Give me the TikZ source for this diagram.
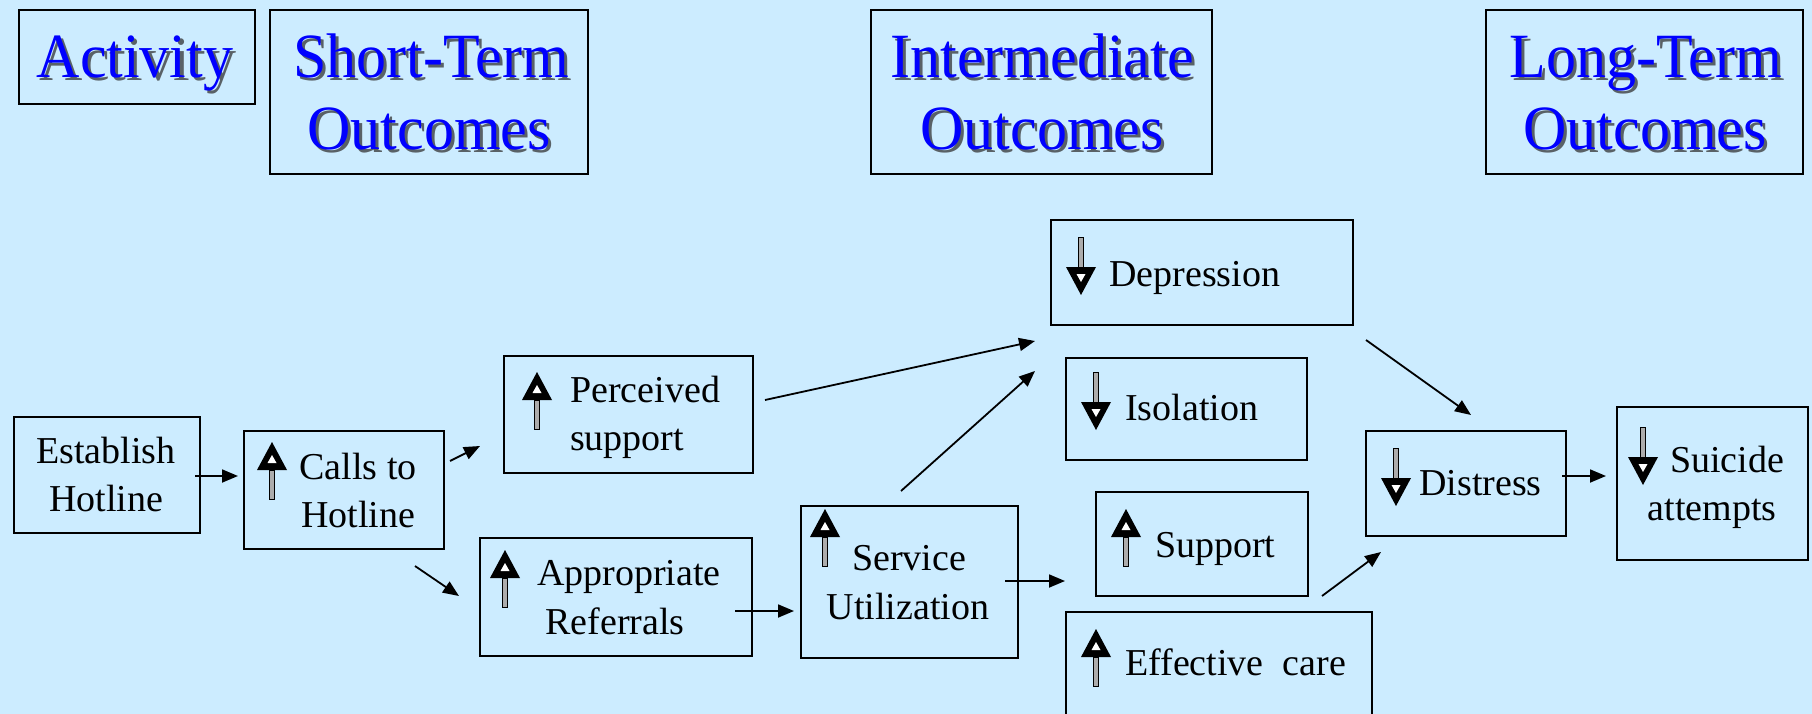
\documentclass[tikz,border=0pt]{standalone}
\usepackage{fontspec}
\setmainfont{Liberation Serif}
\usetikzlibrary{arrows.meta}
\definecolor{bg}{RGB}{204,236,255}
\definecolor{hblue}{RGB}{0,0,255}
\tikzset{
  box/.style={draw=black, line width=2pt, inner sep=0pt, anchor=north west},
  htext/.style={font=\fontsize{60}{72}\selectfont, text=hblue, inner sep=0pt, anchor=base, yscale=1.05},
  hshadow/.style={font=\fontsize{60}{72}\selectfont, text=black!80, opacity=0.75, inner sep=0pt, anchor=base, yscale=1.05},
  btext/.style={font=\fontsize{38}{46}\selectfont, text=black, inner sep=0pt},
  arr/.style={line width=1.8pt, -{Triangle[length=16pt,width=13pt]}}
}
\newcommand{\bx}[5]{\node[box, minimum width=#4pt, minimum height=#5pt] (#1) at (#2,#3) {};}
\newcommand{\hd}[4]{\node[hshadow] (#1s) at (#2+3,#3+3) {#4};\node[htext] (#1) at (#2,#3) {#4};}
\newcommand{\upicon}[2]{%
  \fill[black] (#1,#2) -- (#1+15,#2+28) -- (#1-15,#2+28) -- cycle;
  \fill[white] (#1,#2+13) -- (#1+4.5,#2+21) -- (#1-4.5,#2+21) -- cycle;
  \filldraw[fill=gray!65, draw=black, line width=0.8pt] (#1-2.5,#2+28) rectangle (#1+2.5,#2+57);}
\newcommand{\downicon}[2]{%
  \filldraw[fill=gray!65, draw=black, line width=0.8pt] (#1-2.5,#2) rectangle (#1+2.5,#2+30);
  \fill[black] (#1-15,#2+30) -- (#1+15,#2+30) -- (#1,#2+58) -- cycle;
  \fill[white] (#1-4.5,#2+37) -- (#1+4.5,#2+37) -- (#1,#2+45) -- cycle;}
\begin{document}
\begin{tikzpicture}[x=1pt,y=-1pt]
\fill[bg] (0,0) rectangle (1812,714);
\useasboundingbox (0,0) rectangle (1812,714);

% header boxes
\bx{act}{18}{9}{236}{94}
\bx{st}{269}{9}{318}{164}
\bx{im}{870}{9}{341}{164}
\bx{lt}{1485}{9}{317}{164}

\hd{hact}{135}{78}{Activity}
\hd{hst}{431}{78}{Short-Term}
\hd{hsto}{429}{150}{Outcomes}
\hd{him}{1042}{78}{Intermediate}
\hd{himo}{1042}{150}{Outcomes}
\hd{hlt}{1646}{78}{Long-Term}
\hd{hlto}{1645}{150}{Outcomes}

% boxes
\bx{estab}{13}{416}{186}{116}
\bx{calls}{243}{430}{200}{118}
\bx{perc}{503}{355}{249}{117}
\bx{appr}{479}{537}{272}{118}
\bx{serv}{800}{505}{217}{152}
\bx{depr}{1050}{219}{302}{105}
\bx{isol}{1065}{357}{241}{102}
\bx{supp}{1095}{491}{212}{104}
\bx{eff}{1065}{611}{306}{110}
\bx{distr}{1365}{430}{200}{105}
\bx{suic}{1616}{406}{191}{153}

% texts
\node[btext, anchor=base] (t1a) at (106,463) {Establish};
\node[btext, anchor=base] (t1b) at (106,511) {Hotline};
\node[btext, anchor=base] (t2a) at (358,479) {Calls to};
\node[btext, anchor=base] (t2b) at (358,527) {Hotline};
\node[btext, anchor=base west] (t3a) at (570,402) {Perceived};
\node[btext, anchor=base west] (t3b) at (570,450) {support};
\node[btext, anchor=base] (t4a) at (629,585) {Appropriate};
\node[btext, anchor=base] (t4b) at (615,634) {Referrals};
\node[btext, anchor=base] (t5a) at (909,570) {Service};
\node[btext, anchor=base] (t5b) at (908,619) {Utilization};
\node[btext, anchor=base west] (t6) at (1109,286) {Depression};
\node[btext, anchor=base west] (t7) at (1125,420) {Isolation};
\node[btext, anchor=base west] (t8) at (1155,557) {Support};
\node[btext, anchor=base west] (t9) at (1125,675) {Effective~~care};
\node[btext, anchor=base west] (t10) at (1419,495) {Distress};
\node[btext, anchor=base] (t11a) at (1727,472) {Suicide};
\node[btext, anchor=base] (t11b) at (1712,520) {attempts};

% icons
\upicon{272}{442}
\upicon{537}{372}
\upicon{505}{550}
\upicon{825}{509}
\upicon{1126}{509}
\upicon{1096}{629}
\downicon{1081}{237}
\downicon{1096}{372}
\downicon{1396}{448}
\downicon{1643}{427}

% connector end points
\coordinate (a1s) at (195,476);  \coordinate (a1e) at (238,476);
\coordinate (a2s) at (450,461);  \coordinate (a2e) at (480,446);
\coordinate (a3s) at (415,566);  \coordinate (a3e) at (459,596);
\coordinate (a4s) at (765,400);  \coordinate (a4e) at (1035,341);
\coordinate (a5s) at (735,611);  \coordinate (a5e) at (794,611);
\coordinate (a6s) at (901,491);  \coordinate (a6e) at (1035,371);
\coordinate (a7s) at (1005,581); \coordinate (a7e) at (1065,581);
\coordinate (a8s) at (1366,340); \coordinate (a8e) at (1471,415);
\coordinate (a9s) at (1322,596); \coordinate (a9e) at (1381,552);
\coordinate (a10s) at (1562,476); \coordinate (a10e) at (1606,476);

\draw[arr] (a1s) -- (a1e);
\draw[arr] (a2s) -- (a2e);
\draw[arr] (a3s) -- (a3e);
\draw[arr] (a4s) -- (a4e);
\draw[arr] (a5s) -- (a5e);
\draw[arr] (a6s) -- (a6e);
\draw[arr] (a7s) -- (a7e);
\draw[arr] (a8s) -- (a8e);
\draw[arr] (a9s) -- (a9e);
\draw[arr] (a10s) -- (a10e);
\end{tikzpicture}
\end{document}
